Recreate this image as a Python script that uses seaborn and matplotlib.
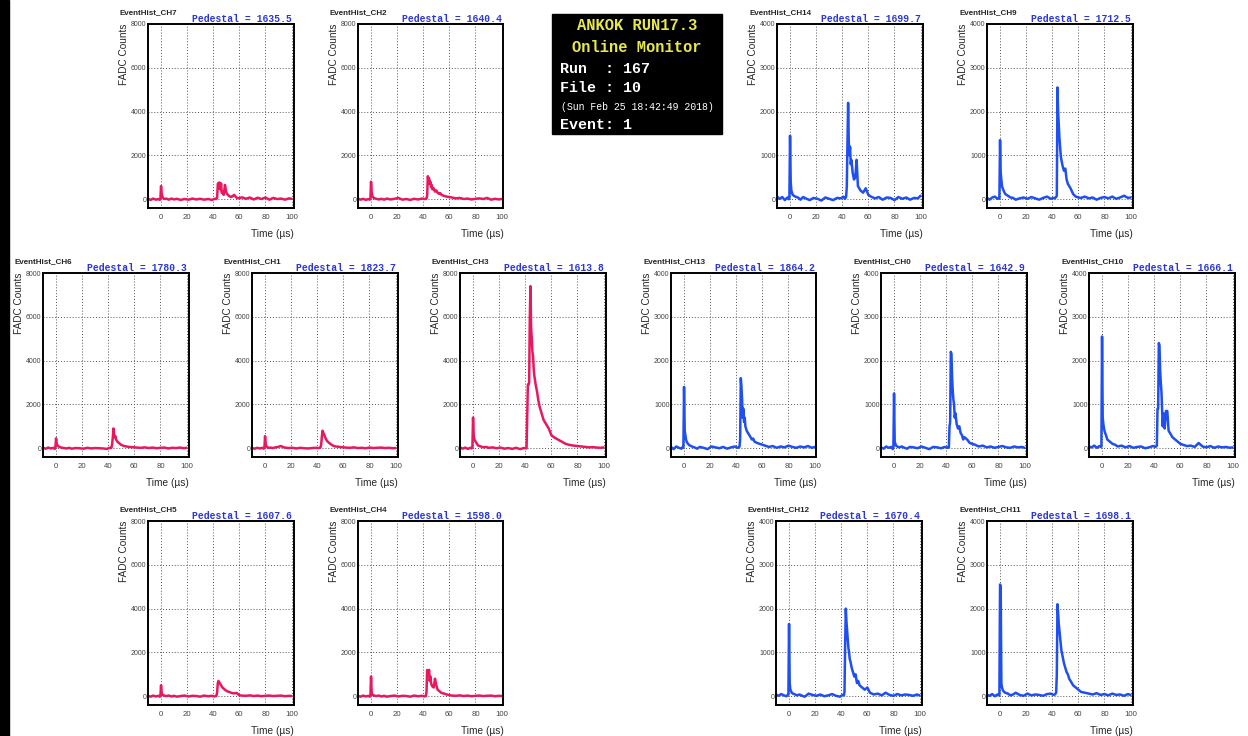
import seaborn as sns
import matplotlib.pyplot as plt
from matplotlib.ticker import MultipleLocator
from matplotlib.patches import Rectangle

sns.set_style("white")
plt.rcParams['font.family'] = ['Liberation Sans', 'DejaVu Sans']

# sample times (us), shared by all channels
times = [-10, -8, -6, -4, -2, -1, -0.5, 0, 0.5, 1, 1.5, 2, 3, 4, 6, 8, 10, 12, 15, 18, 21,
         24, 27, 30, 33, 36, 39, 41, 42, 42.5, 43, 43.5, 44, 44.5, 45, 45.5, 46, 46.5, 47,
         48, 49, 50, 51, 52, 53, 54, 56, 58, 60, 62, 65, 68, 71, 74, 77, 80, 83, 86, 89,
         92, 95, 98, 100]

# FADC counts (pedestal subtracted)
ch7 = [20, -30, 30, -20, 10, -30, 20, 600, 250, 120, 60, 40, 10, 30,
       -20, 30, -10, 20, -30, 10, -20, 30, -10, 20, -20, 10, -30, 20,
       10, 20, 100, 700, 750, 500, 760, 450, 720, 300, 350, 200, 650, 300, 220, 150, 120, 100, 200, 60, 40,
       90, 20, 80, -10, 70, 10, 80, -20, 60, 10, 30, -20, 40, 20]
ch2 = [30, -20, 20, -30, 10, -20, 30, 800, 300, 150, 100, 60, 40, 20,
       -10, 20, -20, 30, -10, 20, 60, -20, 10, -30, 20, -10, 30, 10,
       20, 40, 150, 1050, 900, 950, 700, 800, 550, 650, 450, 500, 350, 400, 300, 250, 280, 200, 150, 120, 100,
       80, 40, 60, 10, 30, -10, 20, 40, 10, 60, -20, 20, -10, 10]
ch14 = [60, 10, 50, -20, 40, 0, 30, 1450, 400, 200, 150, 100, 80, 60,
        40, -10, 50, 20, -20, 30, 10, -30, 40, 10, -20, 30, 20, 60,
        10, 30, 60, 300, 1300, 2200, 1300, 1000, 1200, 800, 900, 600, 450, 500, 900, 300, 250, 200, 150, 250, 100,
        60, 20, 50, -10, 40, 30, -20, 50, 10, 40, -10, 30, 20, 80]
ch9 = [30, -10, 40, 60, 10, 30, 20, 1350, 600, 450, 300, 250, 180, 120,
       80, 40, 30, -10, 20, 40, 10, 50, 20, -10, 30, 60, 10, 30,
       20, 40, 50, 80, 2550, 2000, 1700, 1400, 1200, 1000, 900, 750, 650, 700, 450, 350, 300, 250, 120, 60, 40,
       30, 60, 20, 40, -10, 30, 50, 20, 60, 10, 40, 80, 30, 40]
ch6 = [20, -20, 30, -10, 20, -30, 10, 450, 200, 150, 100, 80, 50, 30,
       10, -10, 20, -20, 10, 0, -20, 20, -10, 10, 0, -10, -30, 20,
       10, 30, 200, 500, 900, 650, 500, 550, 400, 350, 300, 250, 200, 150, 130, 100, 90, 80, 60, 50, 40,
       30, 20, 40, 10, 30, 0, 20, 30, -10, 20, 10, 30, 0, 20]
ch1 = [10, -20, 20, -10, 20, -20, 10, 550, 200, 100, 60, 40, 20, 30,
       10, 40, 60, 100, 30, 10, 20, -10, 20, 0, -10, 10, 20, 10,
       20, 40, 150, 500, 800, 750, 650, 600, 500, 450, 380, 300, 250, 200, 160, 120, 100, 80, 70, 50, 40,
       30, 20, 40, 10, 20, 0, 30, 10, 20, 30, 10, 20, 0, 10]
ch3 = [40, -20, 30, -30, 20, -10, 30, 1400, 600, 400, 350, 300, 200, 120,
       80, 40, 60, 20, 40, 0, 30, -20, 10, -30, 20, -40, 10, 0,
       2900, 2900, 3000, 6000, 7400, 5500, 5000, 4400, 4200, 3600, 3300, 2900, 2600, 2200, 1900, 1700, 1500, 1300, 1100, 900, 600,
       500, 400, 300, 200, 150, 120, 100, 80, 60, 40, 50, 30, 20, 40]
ch13 = [30, -20, 40, 10, -10, 30, 20, 1400, 400, 300, 200, 150, 100, 70,
        40, 20, -10, 30, 10, -20, 40, 20, 0, 30, -10, 20, 40, 10,
        20, 40, 200, 1600, 1400, 1100, 700, 900, 600, 700, 500, 400, 350, 300, 250, 200, 220, 150, 120, 100, 80,
        60, 30, 50, 10, 40, 20, 60, 30, 10, 40, 20, 50, 10, 30]
ch0 = [20, -10, 40, 10, 30, -20, 20, 1250, 150, 100, 60, 50, 30, 20,
       40, 10, -10, 30, 20, 0, 40, 10, -20, 30, 20, 0, 30, 10,
       20, 500, 600, 2200, 2150, 1600, 1300, 1100, 1000, 700, 800, 550, 450, 500, 350, 300, 200, 250, 200, 120, 100,
       80, 40, 60, 20, 40, 10, 30, 50, 20, 10, 40, 20, 30, 10]
ch10 = [40, 20, 60, 10, 50, 30, 40, 2550, 700, 550, 450, 380, 300, 200,
        150, 100, 80, 40, 60, 20, 50, 10, 30, 40, 0, 20, 50, 30,
        60, 900, 900, 2400, 2350, 1800, 1500, 1300, 900, 500, 800, 450, 850, 850, 400, 350, 300, 250, 200, 150, 100,
        80, 50, 60, 30, 120, 40, 20, 50, 10, 40, 20, 30, 10, 20]
ch5 = [20, -20, 30, -10, 20, -20, 10, 500, 150, 80, 50, 40, 20, 10,
       30, -10, 20, -20, 10, 30, -10, 20, 10, -20, 30, 0, 20, -10,
       10, 30, 200, 600, 700, 650, 600, 550, 500, 450, 400, 350, 300, 250, 220, 200, 180, 150, 130, 150, 40,
       30, 20, 40, 10, 30, 0, 20, 30, 10, 20, 30, 0, 20, 10]
ch4 = [20, -20, 30, -10, 20, -20, 10, 900, 150, 80, 50, 40, 20, 10,
       30, -10, 20, -20, 10, 30, -10, 20, 10, -20, 30, 0, 20, -10,
       10, 200, 1200, 1150, 1100, 1200, 700, 900, 600, 500, 450, 400, 800, 500, 300, 250, 200, 150, 120, 80, 50,
       30, 20, 40, 10, 30, 0, 20, 30, 10, 20, 30, 0, 20, 10]
ch12 = [40, 10, 50, 20, 0, 30, 40, 1650, 300, 150, 120, 80, 60, 50,
        20, 40, 10, -10, 60, 30, 10, 40, 0, 20, 50, 10, -10, 30,
        20, 100, 1200, 2000, 1700, 1500, 1300, 1100, 1000, 850, 800, 650, 550, 450, 500, 300, 350, 250, 200, 150, 200,
        80, 40, 60, 20, 80, 30, 10, 50, 20, 40, 30, 10, 40, 20]
ch11 = [30, 10, 50, 0, 40, 20, 30, 2550, 2500, 300, 200, 150, 100, 80,
        60, 20, 40, 80, 30, 10, 60, 20, 40, 30, 10, 50, 60, 30,
        40, 60, 80, 500, 2100, 1900, 1650, 1500, 1350, 1200, 1050, 900, 750, 650, 550, 500, 400, 350, 250, 200, 150,
        100, 80, 60, 40, 70, 30, 50, 20, 60, 30, 40, 10, 50, 30]

pedestals = {"CH7": 1635.5, "CH2": 1640.4, "CH14": 1699.7, "CH9": 1712.5,
             "CH6": 1780.3, "CH1": 1823.7, "CH3": 1613.8, "CH13": 1864.2, "CH0": 1642.9, "CH10": 1666.1,
             "CH5": 1607.6, "CH4": 1598.0, "CH12": 1670.4, "CH11": 1698.1}

RED = '#e8185c'
BLUE = '#1f4ff0'

# (name, values, colour, ymax, left px, top px)
W, H = 1248, 736
AW, AH = 145.5, 184
panels = [
    ("CH7", ch7, RED, 8000, 148, 24), ("CH2", ch2, RED, 8000, 358, 24),
    ("CH14", ch14, BLUE, 4000, 777, 24), ("CH9", ch9, BLUE, 4000, 987, 24),
    ("CH6", ch6, RED, 8000, 43, 273), ("CH1", ch1, RED, 8000, 252, 273),
    ("CH3", ch3, RED, 8000, 460, 273), ("CH13", ch13, BLUE, 4000, 671, 273),
    ("CH0", ch0, BLUE, 4000, 881, 273), ("CH10", ch10, BLUE, 4000, 1089, 273),
    ("CH5", ch5, RED, 8000, 148, 521), ("CH4", ch4, RED, 8000, 358, 521),
    ("CH12", ch12, BLUE, 4000, 776, 521), ("CH11", ch11, BLUE, 4000, 987, 521),
]

fig = plt.figure(figsize=(W / 100, H / 100), dpi=100)

# dark strip on the left edge of the screenshot
fig.patches.append(Rectangle((0, 0), 9 / W, 1, transform=fig.transFigure, color='black'))

for name, vals, col, ymax, lx, ty in panels:
    ax = fig.add_axes([lx / W, 1 - (ty + AH) / H, AW / W, AH / H])
    sns.lineplot(x=times, y=vals, ax=ax, color=col, linewidth=1.8,
                 estimator=None, sort=False, legend=False)
    ax.set_xlim(-10, 101.5)
    ax.set_ylim(-0.05 * ymax, ymax)
    ax.xaxis.set_major_locator(MultipleLocator(20))
    ax.xaxis.set_minor_locator(MultipleLocator(4))
    ax.yaxis.set_major_locator(MultipleLocator(ymax // 4))
    ax.yaxis.set_minor_locator(MultipleLocator(ymax // 20))
    ax.tick_params(which='both', direction='in', colors='black', labelcolor='#444')
    ax.tick_params(which='major', length=4, width=0.7)
    ax.tick_params(which='minor', length=2, width=0.6)
    ax.tick_params(axis='x', labelsize=5.6, pad=4)
    ax.tick_params(axis='y', labelsize=5.0, pad=1)
    ax.grid(True, which='major', linestyle=(0, (1, 2)), color='#555', linewidth=0.7)
    ax.set_axisbelow(True)
    for s in ax.spines.values():
        s.set_linewidth(1.4)
        s.set_color('black')
    ax.set_ylabel('FADC Counts', loc='top', fontsize=7.2)
    ax.yaxis.set_label_coords(-19 / AW, 1)
    ax.set_xlabel('Time (µs)', loc='right', fontsize=7.3)
    ax.xaxis.set_label_coords(1, -21 / AH)
    ax.text(-28 / AW, 1 + 11 / AH, "EventHist_" + name, transform=ax.transAxes,
            ha='left', va='center', fontsize=5.8, fontweight='bold')
    ax.text(1 - 2 / AW, 1 + 5 / AH, f"Pedestal = {pedestals[name]:.1f}", transform=ax.transAxes,
            ha='right', va='center', family=['Liberation Mono', 'DejaVu Sans Mono'],
            fontweight='bold', fontsize=7.0, color='#2b36d9')

# run info box
fig.patches.append(Rectangle((552 / W, 1 - 134 / H), 170 / W, 120 / H,
                             transform=fig.transFigure, color='black'))
mono = ['Liberation Mono', 'DejaVu Sans Mono']
yel = '#e8e84a'
fig.text(637 / W, 1 - 26 / H, "ANKOK RUN17.3", ha='center', va='center', color=yel,
         family=mono, fontweight='bold', fontsize=11.2)
fig.text(637 / W, 1 - 47 / H, "Online Monitor", ha='center', va='center', color=yel,
         family=mono, fontweight='bold', fontsize=11.2)
fig.text(560 / W, 1 - 69 / H, "Run  : 167", ha='left', va='center', color='white',
         family=mono, fontweight='bold', fontsize=10.8)
fig.text(560 / W, 1 - 88 / H, "File : 10", ha='left', va='center', color='white',
         family=mono, fontweight='bold', fontsize=10.8)
fig.text(561 / W, 1 - 107 / H, "(Sun Feb 25 18:42:49 2018)", ha='left', va='center', color='white',
         family=mono, fontsize=7.1)
fig.text(560 / W, 1 - 125 / H, "Event: 1", ha='left', va='center', color='white',
         family=mono, fontweight='bold', fontsize=10.8)

fig.savefig('out.png', dpi=100)
